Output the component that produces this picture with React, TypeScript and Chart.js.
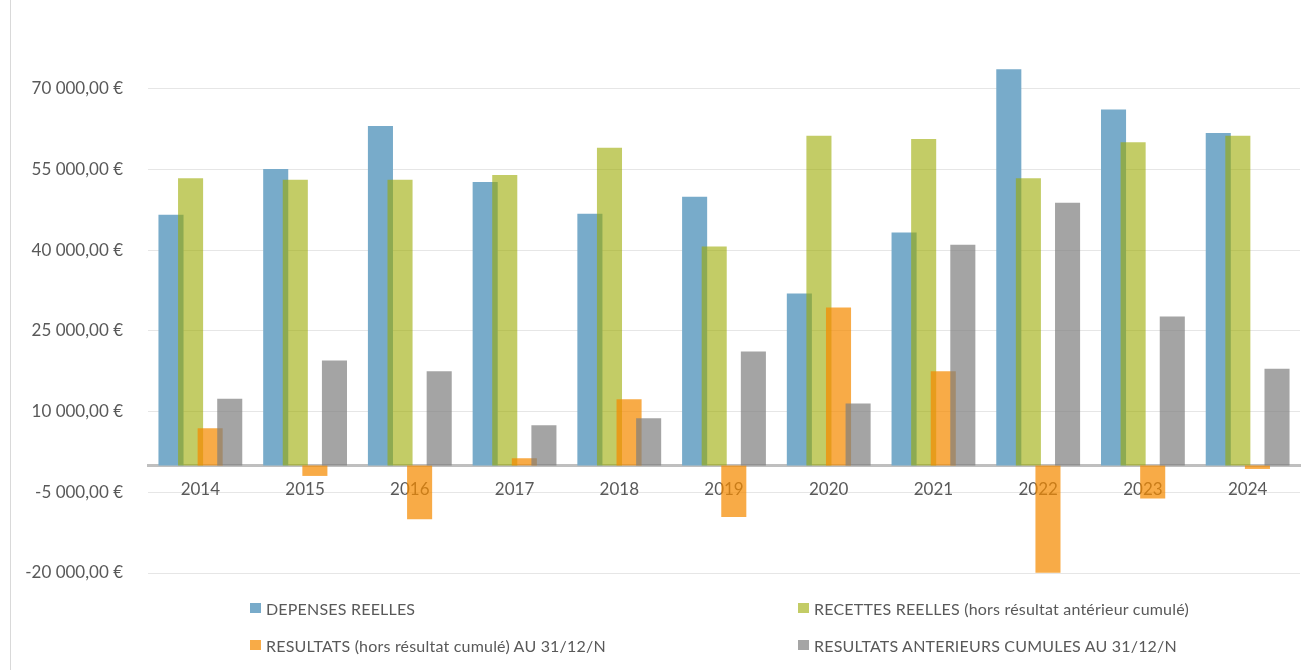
import React, { useEffect, useRef } from 'react';
import { Chart, registerables } from 'chart.js';

Chart.register(...registerables);

const years = ['2014', '2015', '2016', '2017', '2018', '2019', '2020', '2021', '2022', '2023', '2024'];
const depenses = [46600, 55100, 63100, 52700, 46800, 49950, 31950, 43300, 73650, 66200, 61800];
const recettes = [53400, 53100, 53100, 54000, 59050, 40700, 61300, 60700, 53400, 60100, 61300];
const resultats = [6900, -1950, -10000, 1340, 12300, -9600, 29350, 17500, -19950, -6150, -650];
const anterieurs = [12400, 19500, 17500, 7460, 8760, 21200, 11500, 41050, 48850, 27700, 18000];
const yTicks = [-20000, -5000, 10000, 25000, 40000, 55000, 70000];
const seriesLabels = [
  'DEPENSES REELLES',
  'RECETTES REELLES (hors résultat antérieur cumulé)',
  'RESULTATS (hors résultat cumulé) AU 31/12/N',
  'RESULTATS ANTERIEURS CUMULES AU 31/12/N',
];
const seriesColors = [
  'rgb(120,171,202)',
  'rgba(155,170,0,0.6)',
  'rgba(245,138,0,0.72)',
  'rgba(126,126,126,0.7)',
];
const legendSwatch = ['#78abca', '#c3cc66', '#f8ab47', '#a5a5a5'];

const fmtEuro = (v: number) => {
  const parts = Math.abs(v).toFixed(2).split('.');
  const int = parts[0].replace(/\B(?=(\d{3})+(?!\d))/g, ' ');
  return (v < 0 ? '-' : '') + int + ',' + parts[1] + ' €';
};

const drawOrderPlugin = {
  id: 'drawOrder',
  beforeDatasetDraw() {
    return false;
  },
  afterDatasetsDraw(chart: any) {
    for (let i = 0; i < chart.data.datasets.length; i++) {
      const meta = chart.getDatasetMeta(i);
      if (meta && meta.controller) meta.controller.draw();
    }
  },
};

const FONT = 'Lato, "Open Sans", sans-serif';

export default function App() {
  const ref = useRef<HTMLCanvasElement | null>(null);

  useEffect(() => {
    document.body.style.margin = '0';
    const values = [depenses, recettes, resultats, anterieurs];
    const chart = new Chart(ref.current as HTMLCanvasElement, {
      type: 'bar',
      data: {
        labels: years,
        datasets: values.map((d, i) => ({
          label: seriesLabels[i],
          data: d,
          backgroundColor: seriesColors[i],
          borderWidth: 0,
          categoryPercentage: 0.748,
          barPercentage: 1.28,
        })),
      },
      options: {
        animation: false,
        responsive: false,
        maintainAspectRatio: false,
        layout: { padding: { left: 0, right: 9, top: 34, bottom: 97 } },
        plugins: {
          legend: { display: false },
          title: { display: false },
          tooltip: { enabled: false },
        },
        scales: {
          x: {
            position: { y: 0 } as any,
            grid: { display: false, drawTicks: false },
            border: { display: true, color: '#bfbfbf', width: 3 },
            ticks: {
              color: '#595959',
              font: { family: FONT, size: 17 },
              padding: 14,
              maxRotation: 0,
            },
          },
          y: {
            min: -20000,
            max: 80000,
            afterBuildTicks: (scale: any) => {
              scale.ticks = yTicks.map((v) => ({ value: v }));
            },
            afterFit: (scale: any) => {
              scale.width = 148;
            },
            grid: { color: '#e6e6e6', lineWidth: 1, drawTicks: false },
            border: { display: false },
            ticks: {
              color: '#595959',
              font: { family: FONT, size: 17 },
              padding: 25,
              callback: (v: any) => fmtEuro(Number(v)),
            },
          },
        },
      },
      plugins: [drawOrderPlugin],
    });
    return () => chart.destroy();
  }, []);

  const legendPos = [
    { x: 250, y: 608 },
    { x: 798, y: 608 },
    { x: 250, y: 645 },
    { x: 798, y: 645 },
  ];

  return (
    <div style={{ position: 'relative', width: 1309, height: 670, background: '#fff', overflow: 'hidden' }}>
      <div style={{ position: 'absolute', left: 10, top: 0, width: 1, height: 670, background: '#d9d9d9' }} />
      <canvas ref={ref} width={1309} height={670} style={{ position: 'absolute', left: 0, top: 0 }} />
      {seriesLabels.map((label, i) => (
        <div
          key={label}
          style={{
            position: 'absolute',
            left: legendPos[i].x,
            top: legendPos[i].y - 10,
            height: 20,
            display: 'flex',
            alignItems: 'center',
            fontFamily: FONT,
            fontSize: 16,
            letterSpacing: 0.2,
            color: '#595959',
            whiteSpace: 'nowrap',
          }}
        >
          <span style={{ display: 'inline-block', width: 11, height: 10, background: legendSwatch[i], marginRight: 5 }} />
          <span>{label}</span>
        </div>
      ))}
    </div>
  );
}
